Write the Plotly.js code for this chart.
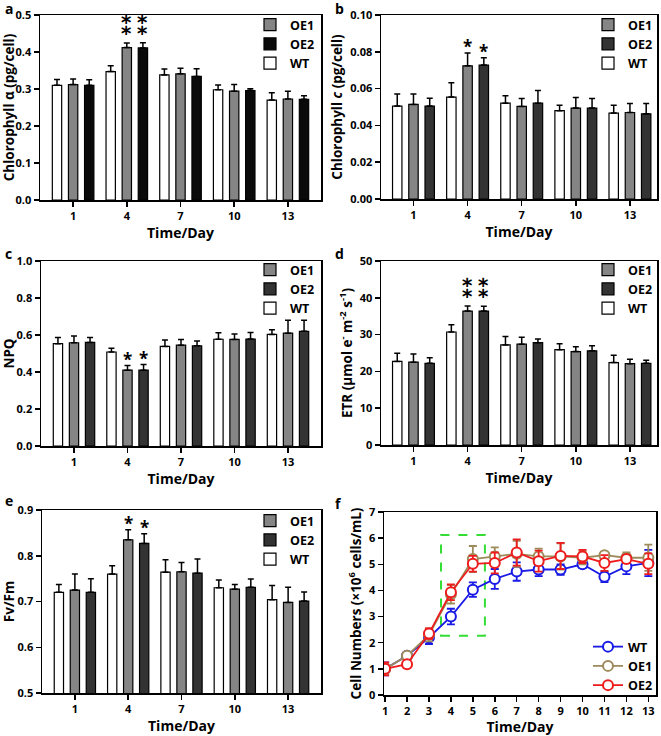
<!DOCTYPE html>
<html>
<head>
<meta charset="utf-8">
<script src="https://cdn.plot.ly/plotly-3.0.1.min.js"></script>
<style>html,body{margin:0;padding:0;background:#fff;}#chart{width:661px;height:736px;}</style>
</head>
<body>
<div id="chart"></div>
<script>
// ---------------- DATA ----------------
const days = [1, 4, 7, 10, 13];
const seriesNames = ['WT', 'OE1', 'OE2'];

// (a) Chlorophyll a (pg/cell)
const chlaWT = [0.310, 0.347, 0.338, 0.298, 0.270];
const chlaWTErr = [0.016, 0.016, 0.016, 0.013, 0.020];
const chlaOE1 = [0.312, 0.412, 0.341, 0.294, 0.273];
const chlaOE1Err = [0.015, 0.012, 0.015, 0.018, 0.021];
const chlaOE2 = [0.310, 0.411, 0.334, 0.296, 0.272];
const chlaOE2Err = [0.015, 0.014, 0.021, 0.005, 0.010];
const chlaStarsOE1 = [0, 2, 0, 0, 0];
const chlaStarsOE2 = [0, 2, 0, 0, 0];

// (b) Chlorophyll c (pg/cell)
const chlcWT = [0.0505, 0.0554, 0.0521, 0.0480, 0.0467];
const chlcWTErr = [0.0065, 0.0078, 0.0040, 0.0030, 0.0043];
const chlcOE1 = [0.0514, 0.0724, 0.0503, 0.0494, 0.0470];
const chlcOE1Err = [0.0056, 0.0070, 0.0043, 0.0058, 0.0049];
const chlcOE2 = [0.0505, 0.0728, 0.0521, 0.0494, 0.0463];
const chlcOE2Err = [0.0042, 0.0040, 0.0069, 0.0052, 0.0056];
const chlcStarsOE1 = [0, 1, 0, 0, 0];
const chlcStarsOE2 = [0, 1, 0, 0, 0];

// (c) NPQ
const npqWT = [0.553, 0.508, 0.538, 0.577, 0.603];
const npqWTErr = [0.033, 0.020, 0.035, 0.035, 0.025];
const npqOE1 = [0.558, 0.410, 0.545, 0.576, 0.610];
const npqOE1Err = [0.037, 0.025, 0.030, 0.030, 0.070];
const npqOE2 = [0.560, 0.410, 0.542, 0.578, 0.620];
const npqOE2Err = [0.027, 0.030, 0.025, 0.035, 0.060];
const npqStarsOE1 = [0, 1, 0, 0, 0];
const npqStarsOE2 = [0, 1, 0, 0, 0];

// (d) ETR
const etrWT = [22.7, 30.7, 27.2, 25.9, 22.4];
const etrWTErr = [2.2, 2.0, 2.3, 1.6, 2.0];
const etrOE1 = [22.5, 36.4, 27.4, 25.4, 22.1];
const etrOE1Err = [2.2, 1.4, 1.9, 1.3, 1.2];
const etrOE2 = [22.2, 36.4, 27.8, 25.6, 22.2];
const etrOE2Err = [1.5, 1.3, 1.0, 1.4, 0.8];
const etrStarsOE1 = [0, 2, 0, 0, 0];
const etrStarsOE2 = [0, 2, 0, 0, 0];

// (e) Fv/Fm
const fvfmWT = [0.720, 0.760, 0.764, 0.730, 0.704];
const fvfmWTErr = [0.017, 0.018, 0.027, 0.017, 0.031];
const fvfmOE1 = [0.725, 0.835, 0.765, 0.727, 0.698];
const fvfmOE1Err = [0.035, 0.022, 0.020, 0.010, 0.033];
const fvfmOE2 = [0.720, 0.827, 0.762, 0.731, 0.701];
const fvfmOE2Err = [0.030, 0.021, 0.031, 0.018, 0.020];
const fvfmStarsOE1 = [0, 1, 0, 0, 0];
const fvfmStarsOE2 = [0, 1, 0, 0, 0];

// (f) Cell numbers (x10^6 cells/mL)
const cellDays = [1, 2, 3, 4, 5, 6, 7, 8, 9, 10, 11, 12, 13];
const cellWT = [1.00, 1.50, 2.20, 3.00, 4.03, 4.44, 4.72, 4.80, 4.80, 5.00, 4.52, 4.92, 5.05];
const cellWTErr = [0.25, 0.15, 0.25, 0.30, 0.28, 0.38, 0.35, 0.25, 0.20, 0.15, 0.20, 0.30, 0.50];
const cellOE1 = [1.00, 1.50, 2.30, 3.85, 5.20, 5.30, 5.40, 5.30, 5.30, 5.25, 5.35, 5.25, 5.25];
const cellOE1Err = [0.20, 0.15, 0.25, 0.35, 0.50, 0.35, 0.50, 0.30, 0.50, 0.25, 0.10, 0.20, 0.50];
const cellOE2 = [1.00, 1.18, 2.35, 3.93, 5.02, 5.05, 5.45, 5.12, 5.32, 5.30, 5.05, 5.20, 5.02];
const cellOE2Err = [0.25, 0.15, 0.20, 0.30, 0.30, 0.40, 0.50, 0.40, 0.50, 0.25, 0.30, 0.15, 0.40];
const highlightDays = [3.55, 5.55];
const highlightCells = [2.27, 6.12];

// ---------------- LAYOUT HELPERS ----------------
const W = 661, H = 736;
const FONT = 'Open Sans, Arial, sans-serif';
const BARGAP = 0.1, BARGROUPGAP = 0.42;
const px = (a, b) => [a / W, b / W];
const py = (top, bottom) => [1 - bottom / H, 1 - top / H];
const STAR_TEXT = { 1: '*', 2: '⁑' };

const panels = [
  { x: [40, 321], y: [15, 200], legendX: 250, legendY: 10 },
  { x: [381, 657], y: [15, 199], legendX: 588, legendY: 10 },
  { x: [41, 321], y: [261, 446], legendX: 250, legendY: 255 },
  { x: [381, 657], y: [261, 445], legendX: 588, legendY: 255 },
  { x: [42, 321], y: [510, 693], legendX: 250, legendY: 506 },
  { x: [384, 656], y: [512, 695], legendX: 588, legendY: 632 }
];

const fillColors = { WT: '#ffffff', OE1: '#858585', OE2: '#333333' };
const legendRank = { WT: 3, OE1: 1, OE2: 2 };
const lineColors = { WT: '#1a1ae6', OE1: '#9e8b5c', OE2: '#ee1c1c' };

const traces = [];
const annotations = [];
const layout = {
  width: W, height: H,
  margin: { l: 0, r: 0, t: 0, b: 0 },
  paper_bgcolor: '#fff', plot_bgcolor: '#fff',
  font: { family: FONT, size: 11, color: '#000', weight: 700 },
  barmode: 'group', bargap: BARGAP, bargroupgap: BARGROUPGAP,
  showlegend: true,
  shapes: [],
  annotations: annotations
};

function axisBase() {
  return {
    showline: true, linecolor: '#000', linewidth: 1.5, mirror: true,
    ticks: 'outside', ticklen: 5, tickwidth: 1.5, tickcolor: '#000',
    showgrid: false, zeroline: false, fixedrange: true,
    tickfont: { family: FONT, size: 11, color: '#000', weight: 700 }
  };
}

function suffix(i) { return i === 0 ? '' : String(i + 1); }

function addLegend(i) {
  const p = panels[i];
  layout['legend' + suffix(i)] = {
    x: p.legendX / W, xanchor: 'left',
    y: 1 - p.legendY / H, yanchor: 'top',
    bgcolor: 'rgba(0,0,0,0)', borderwidth: 0,
    font: { family: FONT, size: 12.5, color: '#000', weight: 700 },
    tracegroupgap: 0, itemclick: false
  };
}

function barPanel(i, yTitle, yRange, dtick, fmt, xRange, data, stars, oe2Color) {
  const s = suffix(i);
  const p = panels[i];
  const order = ['WT', 'OE1', 'OE2'];
  order.forEach(function (name) {
    const vals = data[name][0], errs = data[name][1];
    traces.push({
      type: 'bar', name: name, x: days, y: vals,
      xaxis: 'x' + s, yaxis: 'y' + s, legend: 'legend' + s,
      legendrank: legendRank[name],
      marker: { color: name === 'OE2' && oe2Color ? oe2Color : fillColors[name], line: { color: '#000', width: 1.2 } },
      error_y: { type: 'data', array: errs, arrayminus: errs.map(function () { return 0; }), symmetric: false,
                 color: '#000', thickness: 1.5, width: 3 },
      hoverinfo: 'skip'
    });
  });
  const xa = axisBase();
  Object.assign(xa, {
    domain: px(p.x[0], p.x[1]), anchor: 'y' + s, range: xRange,
    tickmode: 'array', tickvals: days, ticktext: days.map(String),
    title: { text: 'Time/Day', font: { family: FONT, size: 14, weight: 700 }, standoff: 6 }
  });
  const ya = axisBase();
  Object.assign(ya, {
    domain: py(p.y[0], p.y[1]), anchor: 'x' + s, range: yRange,
    dtick: dtick, tick0: yRange[0], tickformat: fmt,
    title: { text: yTitle, font: { family: FONT, size: 13.5, weight: 700 }, standoff: 4 }
  });
  layout['xaxis' + s] = xa;
  layout['yaxis' + s] = ya;
  addLegend(i);
  // significance stars
  const slot = (days[1] - days[0]) * (1 - BARGAP) / 3;
  [['OE1', 0], ['OE2', slot]].forEach(function (pair) {
    const name = pair[0], off = pair[1];
    stars[name].forEach(function (n, k) {
      if (!n) return;
      const dbl = n === 2;
      annotations.push({
        xref: 'x' + s, yref: 'y' + s, x: days[k] + off,
        y: data[name][0][k] + data[name][1][k],
        text: STAR_TEXT[n], showarrow: false, xanchor: 'center',
        yanchor: dbl ? 'bottom' : 'middle', yshift: dbl ? 0 : 6,
        font: dbl ? { family: 'DejaVu Sans', size: 25, color: '#000', weight: 700 }
                  : { family: FONT, size: 17, color: '#000', weight: 700 }
      });
    });
  });
}

const xRangeLeft = [-0.85, 14.85];
const xRangeRight = [-0.8, 14.5];

barPanel(0, 'Chlorophyll α (pg/cell)', [0, 0.5], 0.1, '.1f', xRangeLeft,
  { WT: [chlaWT, chlaWTErr], OE1: [chlaOE1, chlaOE1Err], OE2: [chlaOE2, chlaOE2Err] },
  { OE1: chlaStarsOE1, OE2: chlaStarsOE2 }, '#0a0a0a');
barPanel(1, 'Chlorophyll <i>c</i> (pg/cell)', [0, 0.1], 0.02, '.2f', xRangeRight,
  { WT: [chlcWT, chlcWTErr], OE1: [chlcOE1, chlcOE1Err], OE2: [chlcOE2, chlcOE2Err] },
  { OE1: chlcStarsOE1, OE2: chlcStarsOE2 });
barPanel(2, 'NPQ', [0, 1.0], 0.2, '.1f', xRangeLeft,
  { WT: [npqWT, npqWTErr], OE1: [npqOE1, npqOE1Err], OE2: [npqOE2, npqOE2Err] },
  { OE1: npqStarsOE1, OE2: npqStarsOE2 });
barPanel(3, 'ETR (μmol e<sup>-</sup> m<sup>-2</sup> s<sup>-1</sup>)', [0, 50], 10, 'd', xRangeRight,
  { WT: [etrWT, etrWTErr], OE1: [etrOE1, etrOE1Err], OE2: [etrOE2, etrOE2Err] },
  { OE1: etrStarsOE1, OE2: etrStarsOE2 });
barPanel(4, 'Fv/Fm', [0.5, 0.9], 0.1, '.1f', xRangeLeft,
  { WT: [fvfmWT, fvfmWTErr], OE1: [fvfmOE1, fvfmOE1Err], OE2: [fvfmOE2, fvfmOE2Err] },
  { OE1: fvfmStarsOE1, OE2: fvfmStarsOE2 });

// ---- panel f ----
(function () {
  const i = 5, s = suffix(i), p = panels[i];
  const data = { WT: [cellWT, cellWTErr], OE1: [cellOE1, cellOE1Err], OE2: [cellOE2, cellOE2Err] };
  seriesNames.forEach(function (name) {
    traces.push({
      type: 'scatter', mode: 'lines+markers', name: name,
      x: cellDays, y: data[name][0], xaxis: 'x' + s, yaxis: 'y' + s, legend: 'legend' + s,
      line: { color: lineColors[name], width: 1.8 },
      marker: { symbol: 'circle', size: 10, color: '#fff', line: { color: lineColors[name], width: 2 } },
      error_y: { type: 'data', array: data[name][1], color: lineColors[name], thickness: 1.8, width: 4 },
      hoverinfo: 'skip'
    });
  });
  const xa = axisBase();
  Object.assign(xa, {
    domain: px(p.x[0], p.x[1]), anchor: 'y' + s, range: [0.95, 13.35],
    tickmode: 'array', tickvals: cellDays, ticktext: cellDays.map(String),
    title: { text: 'Time/Day', font: { family: FONT, size: 14, weight: 700 }, standoff: 6 }
  });
  const ya = axisBase();
  Object.assign(ya, {
    domain: py(p.y[0], p.y[1]), anchor: 'x' + s, range: [0, 7], dtick: 1,
    title: { text: 'Cell Numbers (×10<sup>6</sup> cells/mL)', font: { family: FONT, size: 13.5, weight: 700 }, standoff: 4 }
  });
  layout['xaxis' + s] = xa;
  layout['yaxis' + s] = ya;
  addLegend(i);
  layout.shapes.push({
    type: 'rect', xref: 'x' + s, yref: 'y' + s,
    x0: highlightDays[0], x1: highlightDays[1], y0: highlightCells[0], y1: highlightCells[1],
    line: { color: '#33dd33', width: 2, dash: 'dash' }, fillcolor: 'rgba(0,0,0,0)', layer: 'below'
  });
})();

// panel letters
[['a', 3, 8], ['b', 333, 8], ['c', 3, 254], ['d', 333, 254], ['e', 3, 500], ['f', 333, 503]].forEach(function (t) {
  annotations.push({
    xref: 'paper', yref: 'paper', x: t[1] / W, y: 1 - t[2] / H, xanchor: 'left', yanchor: 'middle',
    text: t[0], showarrow: false, font: { family: FONT, size: 14, color: '#000', weight: 700 }
  });
});

Plotly.newPlot('chart', traces, layout, { displayModeBar: false, staticPlot: true });
</script>
</body>
</html>
